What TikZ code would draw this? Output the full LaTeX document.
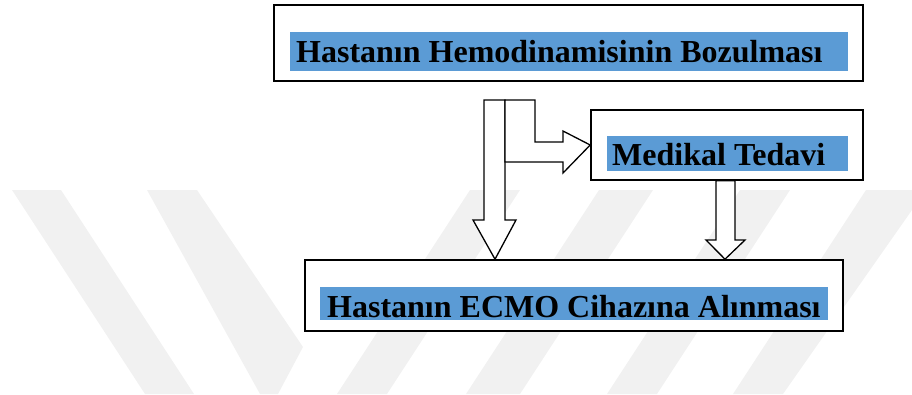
\documentclass[tikz,border=0pt]{standalone}
\usepackage{fontspec}
\setmainfont{Liberation Serif}
\usetikzlibrary{calc}
\definecolor{hlblue}{HTML}{5B9BD5}
\definecolor{wm}{HTML}{F1F1F1}
\begin{document}
\begin{tikzpicture}[x=1pt,y=-1pt,
  box/.style={draw=black,line width=1.6pt,fill=white,rectangle,inner sep=0pt},
  barrow/.style={draw=black,line width=1.3pt,fill=white,line join=miter},
  lbl/.style={anchor=base west,inner sep=0pt,font=\fontsize{32}{38}\selectfont\bfseries},
  hl/.style={fill=hlblue},
  wmark/.style={fill=wm}]
\useasboundingbox (0,0) rectangle (912,394);
% faint watermark
\fill[wmark] (12,190)--(61,190)--(194,394)--(145,394)--cycle;
\fill[wmark] (147,190)--(197,190)--(303,347)--(278,394)--(260,394)--cycle;
\fill[wmark] (470,190)--(520,190)--(387,394)--(337,394)--cycle;
\fill[wmark] (599,190)--(653,190)--(520,394)--(466,394)--cycle;
\fill[wmark] (740,190)--(790,190)--(657,394)--(607,394)--cycle;
\fill[wmark] (866,190)--(912,190)--(912,210)--(783,394)--(733,394)--cycle;
% boxes
\node[box,minimum width=589pt,minimum height=76pt] (top) at (568.5,43) {};
\node[box,minimum width=272pt,minimum height=70pt] (med) at (727,145) {};
\node[box,minimum width=538pt,minimum height=71pt] (bot) at (574,295.5) {};
% highlighted labels
\fill[hl] (290,32) rectangle (848,71);
\node[lbl] (ttop) at (296,62) {Hastanın Hemodinamisinin Bozulması};
\fill[hl] (607,136) rectangle (848,171);
\node[lbl] (tmed) at (612,165) {Medikal Tedavi};
\fill[hl] (320,287) rectangle (828,320);
\node[lbl] (tbot) at (327,317) {Hastanın ECMO Cihazına Alınması};
% block arrows
\coordinate (s) at (484,100);
\draw[barrow] (s) -- (505,100) -- (505,220) -- (516,220)
  -- (495,0 |- bot.north) -- (473,220) -- (484,220) -- cycle;
\draw[barrow] (505,100) -- (535,100) -- (535,142) -- (563,142) -- (563,131)
  -- (med.west) -- (563,173) -- (563,162) -- (505,162) -- cycle;
\draw[barrow] (716,0 |- med.south) -- (735,0 |- med.south) -- (735,240) -- (745,240)
  -- (725,0 |- bot.north) -- (706,240) -- (716,240) -- cycle;
\end{tikzpicture}
\end{document}
